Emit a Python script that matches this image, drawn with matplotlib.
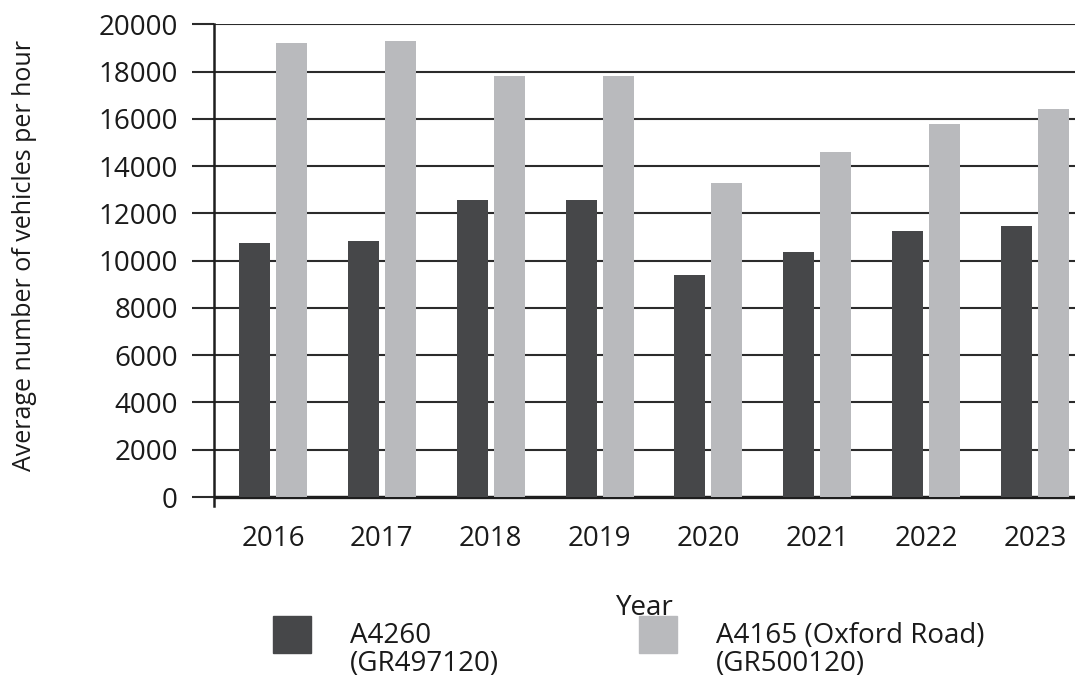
import matplotlib
matplotlib.use("Agg")
import matplotlib.pyplot as plt
from matplotlib.patches import Rectangle
import numpy as np

plt.rcParams['font.family'] = ['Open Sans', 'DejaVu Sans']

# data
years = ['2016', '2017', '2018', '2019', '2020', '2021', '2022', '2023']
a4260 = [10750, 10850, 12550, 12550, 9400, 10350, 11250, 11450]
a4165 = [19200, 19300, 17800, 17800, 13300, 14600, 15800, 16400]
label_a4260 = 'A4260\n(GR497120)'
label_a4165 = 'A4165 (Oxford Road)\n(GR500120)'

dark = '#464749'
light = '#b9babd'
linec = '#2b2b2b'
txt = '#1a1a1a'

fig = plt.figure(figsize=(10.9, 6.86), dpi=100)
ax = fig.add_axes([214/1090, 1 - 506/686, 861/1090, 482/686])

x = np.arange(len(years))
w = 0.285
b1 = ax.bar(x - 0.17, a4260, w, color=dark, zorder=3)
b2 = ax.bar(x + 0.17, a4165, w, color=light, zorder=3)

ax.set_xlim(-0.542, 7.367)
ax.set_ylim(-380, 20010)
ax.set_yticks(range(0, 20001, 2000))
ax.set_xticks(x)
ax.set_xticklabels(years)

# gridlines and axis lines
ax.yaxis.grid(True, color=linec, linewidth=1.5, zorder=0)
ax.set_axisbelow(True)
ax.axhline(0, color='#1e1e1e', linewidth=2.4, zorder=2)
for s in ['top', 'right', 'bottom']:
    ax.spines[s].set_visible(False)
ax.spines['left'].set_color('#1e1e1e')
ax.spines['left'].set_linewidth(1.8)

ax.tick_params(axis='y', length=16, width=1.5, color=linec, pad=10,
               labelsize=20, labelcolor=txt)
ax.tick_params(axis='x', length=0, pad=14, labelsize=20, labelcolor=txt)

ax.set_xlabel('Year', fontsize=20, color=txt, labelpad=29)
ax.set_ylabel('Average number of vehicles per hour', fontsize=18, color=txt)
ax.yaxis.set_label_coords(-0.205, 0.52)

# legend: square lines up with the first line of each label
W, H = 1090, 686
for x0, col, lab in [(273, dark, label_a4260), (639, light, label_a4165)]:
    fig.patches.append(Rectangle((x0 / W, 1 - 653 / H), 38 / W, 37 / H,
                                 transform=fig.transFigure, color=col))
    fig.text((x0 + 77) / W, 1 - 650 / H, lab, fontsize=20, color=txt,
             va='center', ha='left', linespacing=1.04)

plt.savefig('out.png', dpi=100)
